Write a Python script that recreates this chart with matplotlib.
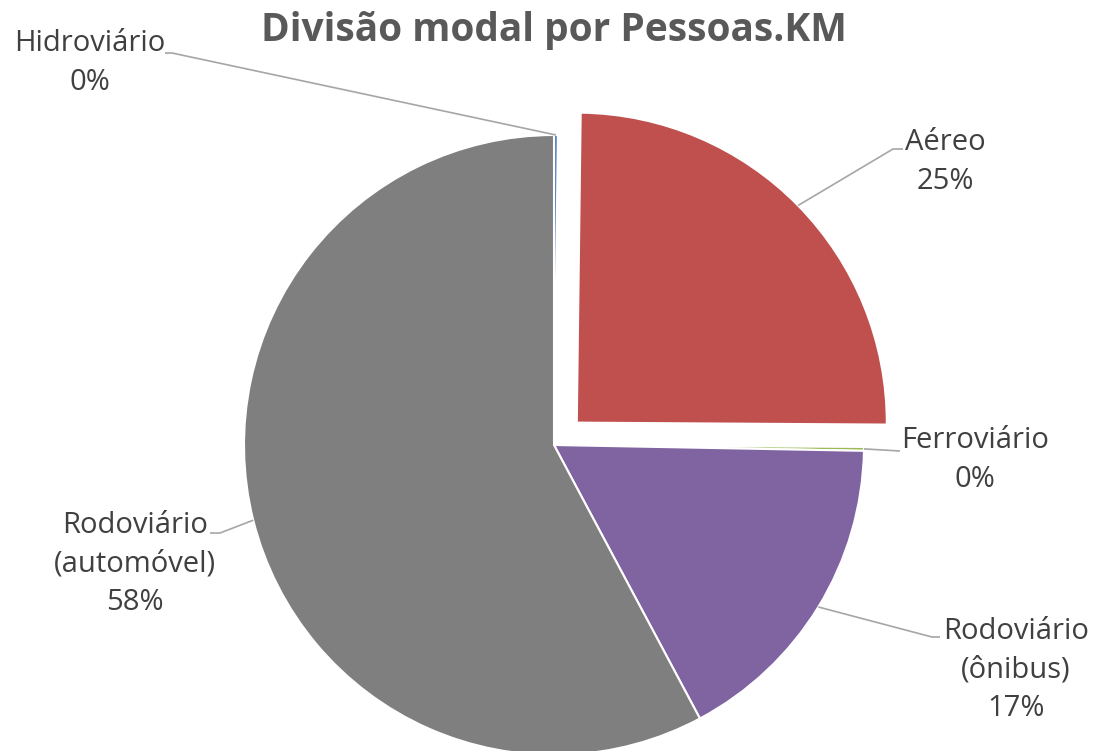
import numpy as np
import matplotlib.pyplot as plt

# dados
labels = ["Hidroviário", "Aéreo", "Ferroviário", "Rodoviário\n(ônibus)", "Rodoviário\n(automóvel)"]
valores = [0.2, 24.9, 0.2, 16.9, 57.8]
cores = ["#4F81BD", "#C0504D", "#9BBB59", "#8064A2", "#7F7F7F"]
destaque = [0, 0.103, 0, 0, 0]   # fracao do raio

W, H = 1093, 751
# posicoes dos rotulos (px, origem no topo) e cotovelo das linhas guia
pos_texto = [(90, 63), (945, 162), (975, 460), (1016, 670), (135, 564)]
cotovelo = [(172, 53), (893, 149), (900, 451), (932, 637), (220, 533)]
fim_linha = [(165, 53), (903, 149), (900, 451), (940, 637), (210, 533)]

plt.rcParams['font.family'] = ['Open Sans', 'DejaVu Sans']

fig = plt.figure(figsize=(W / 100, H / 100), dpi=100)
ax = fig.add_axes([0, 0, 1, 1])

cx, cy, r = 554, H - 445, 310
wedges, _ = ax.pie(valores, colors=cores, explode=[d * r for d in destaque],
                   startangle=90, counterclock=False, center=(cx, cy), radius=r,
                   wedgeprops=dict(edgecolor='white', linewidth=1.5))
ax.set_xlim(0, W)
ax.set_ylim(0, H)
ax.set_aspect('equal')
ax.axis('off')

for i, w in enumerate(wedges):
    ang = np.deg2rad((w.theta1 + w.theta2) / 2)
    x0 = w.center[0] + w.r * np.cos(ang)
    y0 = w.center[1] + w.r * np.sin(ang)
    ex, ey = cotovelo[i]
    fx, fy = fim_linha[i]
    ax.plot([x0, ex, fx], [y0, H - ey, H - fy], color='#A6A6A6', lw=1.2,
            solid_capstyle='butt')
    pct = "%d%%" % round(valores[i])
    tx, ty = pos_texto[i]
    ax.text(tx, H - ty, labels[i] + "\n" + pct, ha='center', va='center',
            fontsize=21, color='#404040', linespacing=1.45)

ax.text(554, H - 31, "Divisão modal por Pessoas.KM", ha='center', va='center',
        fontsize=28, fontweight='bold', color='#595959')

fig.savefig("out.png", dpi=100)
